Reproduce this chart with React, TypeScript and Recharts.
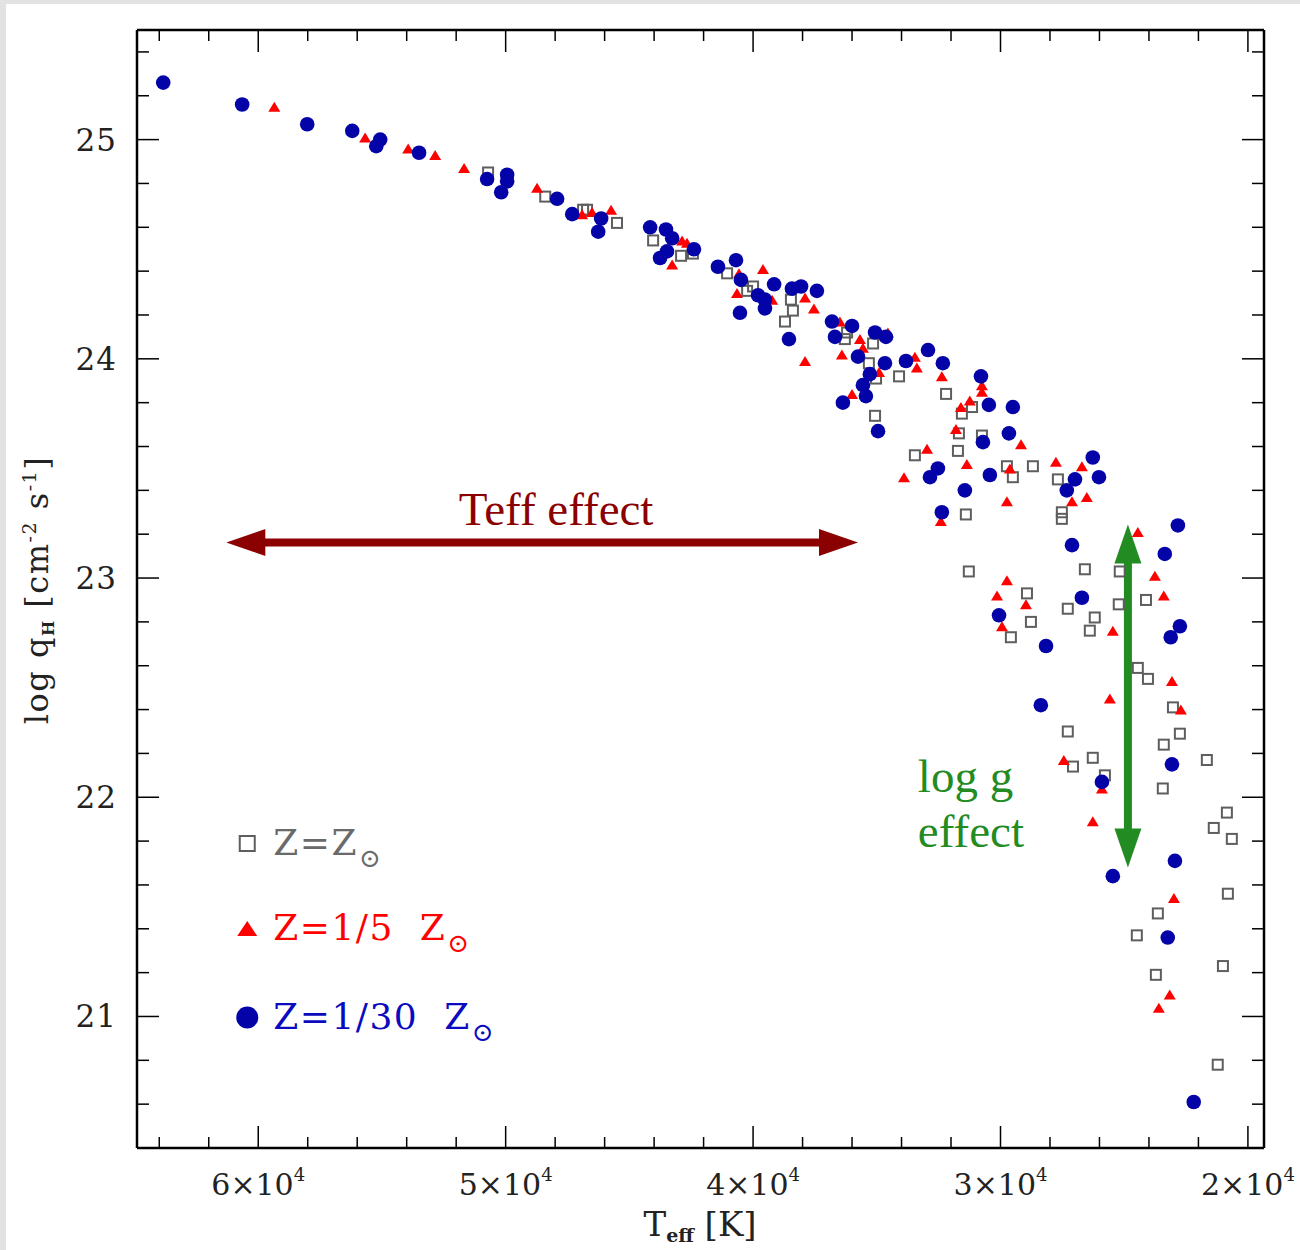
import React from "react";
import {
  ReferenceDot,
  ReferenceLine,
  Scatter,
  ScatterChart,
  XAxis,
  YAxis,
} from "recharts";

// [Teff (K), log qH]
const solarModels: [number, number][] = [
  [50710, 24.85], [48400, 24.74], [46870, 24.68], [46710, 24.68], [45500, 24.62],
  [44040, 24.54], [42910, 24.47], [42430, 24.48], [41050, 24.39], [40000, 24.33],
  [40240, 24.31], [38470, 24.27], [38390, 24.22], [38710, 24.17], [36200, 24.12],
  [36290, 24.09], [35150, 24.07], [35320, 23.98], [35030, 23.91], [35070, 23.74],
  [34100, 23.92], [32200, 23.84], [31150, 23.78], [31560, 23.75], [31680, 23.66],
  [30750, 23.65], [31720, 23.58], [33460, 23.56], [29740, 23.51], [29500, 23.46],
  [28690, 23.51], [27680, 23.45], [27520, 23.3], [27520, 23.27], [31400, 23.29],
  [31280, 23.03], [28930, 22.93], [28770, 22.8], [29580, 22.73], [27280, 22.86],
  [26590, 23.04], [26190, 22.82], [26390, 22.76], [25180, 23.03], [25220, 22.88],
  [24120, 22.9], [24450, 22.59], [24040, 22.54], [23030, 22.41], [22750, 22.29],
  [23400, 22.24], [27280, 22.3], [27070, 22.14], [26270, 22.18], [25780, 22.1],
  [23440, 22.04], [21660, 22.17], [20850, 21.93], [21380, 21.86], [20650, 21.81],
  [20810, 21.56], [23640, 21.47], [24490, 21.37], [21010, 21.23], [23720, 21.19],
  [21220, 20.78],
];

const fifthSolarModels: [number, number][] = [
  [59350, 25.15], [55680, 25.01], [53940, 24.96], [52850, 24.93], [51680, 24.87],
  [48730, 24.78], [46910, 24.66], [46510, 24.67], [45740, 24.68], [42870, 24.54],
  [42670, 24.53], [43270, 24.43], [39600, 24.41], [40570, 24.39], [40650, 24.3],
  [39230, 24.27], [37900, 24.28], [37540, 24.23], [37900, 23.99], [36490, 24.17],
  [35680, 24.09], [35560, 24.05], [36410, 24.02], [34910, 23.94], [36000, 23.84],
  [34550, 24.12], [33460, 24.01], [33380, 23.96], [32370, 23.92], [30750, 23.88],
  [30750, 23.85], [31240, 23.81], [31600, 23.78], [31800, 23.68], [29170, 23.61],
  [32970, 23.59], [33900, 23.46], [31360, 23.52], [29620, 23.5], [29740, 23.35],
  [32410, 23.26], [27760, 23.53], [26710, 23.51], [26510, 23.37], [27110, 23.35],
  [24450, 23.21], [23760, 23.01], [23400, 22.92], [29740, 22.99], [30140, 22.92],
  [28970, 22.88], [29940, 22.78], [25460, 22.76], [23070, 22.53], [25580, 22.45],
  [22710, 22.4], [27440, 22.17], [25900, 22.04], [26270, 21.89], [22990, 21.54],
  [23160, 21.1], [23600, 21.04],
];

const thirtiethSolarModels: [number, number][] = [
  [63840, 25.26], [60650, 25.16], [58020, 25.07], [56200, 25.04], [55070, 25.0],
  [55230, 24.97], [53500, 24.94], [50750, 24.82], [49940, 24.84], [49940, 24.81],
  [50180, 24.76], [47920, 24.73], [47310, 24.66], [46140, 24.64], [46260, 24.58],
  [44160, 24.6], [43520, 24.59], [43270, 24.55], [43480, 24.49], [43760, 24.46],
  [42390, 24.5], [41420, 24.42], [40690, 24.45], [40490, 24.36], [39800, 24.29],
  [39520, 24.27], [39520, 24.23], [39150, 24.34], [40530, 24.21], [38430, 24.32],
  [38060, 24.33], [37420, 24.31], [38550, 24.09], [36810, 24.17], [36000, 24.15],
  [36690, 24.1], [35760, 24.01], [35070, 24.12], [34630, 24.1], [34670, 23.98],
  [35280, 23.93], [35560, 23.88], [35440, 23.83], [36370, 23.8], [34950, 23.67],
  [33820, 23.99], [32930, 24.04], [32330, 23.98], [30790, 23.92], [30470, 23.79],
  [29500, 23.78], [30710, 23.62], [29660, 23.66], [32530, 23.5], [32850, 23.46],
  [30430, 23.47], [31440, 23.4], [32370, 23.3], [26270, 23.55], [26020, 23.46],
  [26990, 23.45], [27320, 23.4], [27110, 23.15], [22830, 23.24], [23360, 23.11],
  [26710, 22.91], [30060, 22.83], [22750, 22.78], [23120, 22.73], [28160, 22.69],
  [28370, 22.42], [23070, 22.15], [25900, 22.07], [22950, 21.71], [25460, 21.64],
  [23240, 21.36], [22190, 20.61],
];

const teffTicks = [
  20000, 22000, 24000, 26000, 28000, 30000, 32000, 34000, 36000, 38000, 40000, 42000,
  44000, 46000, 48000, 50000, 52000, 54000, 56000, 58000, 60000, 62000, 64000,
];
const logqTicks = [
  20.6, 20.8, 21, 21.2, 21.4, 21.6, 21.8, 22, 22.2, 22.4, 22.6, 22.8, 23, 23.2, 23.4,
  23.6, 23.8, 24, 24.2, 24.4, 24.6, 24.8, 25, 25.2, 25.4,
];
const teffDomain = [19350, 64900];
const logqDomain = [20.4, 25.5];

const toPoints = (rows: [number, number][]) => rows.map(([t, q]) => ({ t, q }));

const GRAY = "#5e5e5e";
const RED = "#ff0000";
const BLUE = "#0303a8";
const DARKRED = "#8b0000";
const GREEN = "#228b22";
const SERIF = "DejaVu Serif";

const isMajorT = (v: number) => v % 10000 === 0;
const isMajorQ = (v: number) => Math.abs(v - Math.round(v)) < 1e-6;

function BottomTick({ x, y, payload }: any) {
  const v = payload.value;
  const major = isMajorT(v);
  return (
    <g>
      <line x1={x} x2={x} y1={y} y2={y - (major ? 22 : 11)} stroke="#000" strokeWidth={1.5} />
      {major && (
        <text x={x} y={y + 47} textAnchor="middle" fontFamily={SERIF} fontSize={30} fill="#222">
          {v / 10000}×10
          <tspan dy={-14} fontSize={18}>4</tspan>
        </text>
      )}
    </g>
  );
}

function TopTick({ x, y, payload }: any) {
  const major = isMajorT(payload.value);
  return <line x1={x} x2={x} y1={y} y2={y + (major ? 22 : 11)} stroke="#000" strokeWidth={1.5} />;
}

function LeftTick({ x, y, payload }: any) {
  const v = payload.value;
  const major = isMajorQ(v);
  return (
    <g>
      <line x1={x} x2={x + (major ? 22 : 12)} y1={y} y2={y} stroke="#000" strokeWidth={1.5} />
      {major && (
        <text x={x - 20} y={y + 11} textAnchor="end" fontFamily={SERIF} fontSize={31} fill="#222" letterSpacing={1}>
          {Math.round(v)}
        </text>
      )}
    </g>
  );
}

function RightTick({ x, y, payload }: any) {
  const major = isMajorQ(payload.value);
  return <line x1={x} x2={x - (major ? 22 : 12)} y1={y} y2={y} stroke="#000" strokeWidth={1.5} />;
}

function squareMark(cx: number, cy: number, s: number) {
  return (
    <rect x={cx - s / 2} y={cy - s / 2} width={s} height={s} fill="none" stroke={GRAY} strokeWidth={2} />
  );
}
function triangleMark(cx: number, cy: number, w: number, h: number) {
  return (
    <polygon
      points={`${cx - w / 2},${cy + h / 2} ${cx + w / 2},${cy + h / 2} ${cx},${cy - h / 2}`}
      fill={RED}
    />
  );
}
function circleMark(cx: number, cy: number, r: number) {
  return <circle cx={cx} cy={cy} r={r} fill={BLUE} />;
}

function arrowShape(color: string, both: boolean) {
  return (p: any) => {
    const { x1, y1, x2, y2 } = p;
    const len = Math.hypot(x2 - x1, y2 - y1) || 1;
    const ux = (x2 - x1) / len;
    const uy = (y2 - y1) / len;
    const hl = 39;
    const hw = 13.5;
    const head = (tx: number, ty: number, dx: number, dy: number) => {
      const bx = tx - dx * hl;
      const by = ty - dy * hl;
      return `${tx},${ty} ${bx - dy * hw},${by + dx * hw} ${bx + dy * hw},${by - dx * hw}`;
    };
    const sx = both ? x1 + ux * (hl - 2) : x1;
    const sy = both ? y1 + uy * (hl - 2) : y1;
    return (
      <g>
        <line x1={sx} y1={sy} x2={x2 - ux * (hl - 2)} y2={y2 - uy * (hl - 2)} stroke={color} strokeWidth={8} />
        <polygon points={head(x2, y2, ux, uy)} fill={color} />
        {both && <polygon points={head(x1, y1, -ux, -uy)} fill={color} />}
      </g>
    );
  };
}

function legendShape(marker: (cx: number, cy: number) => React.ReactNode, label: string, color: string) {
  return (p: any) => (
    <g>
      {marker(p.cx, p.cy)}
      <text x={p.cx + 26} y={p.cy + 11} fontFamily={SERIF} fontSize={36} fill={color} letterSpacing={1.5}>
        {label}
        <tspan dx={1} dy={12} fontSize={26}>⊙</tspan>
      </text>
    </g>
  );
}

export default function App() {
  return (
    <div style={{ position: "absolute", left: 0, top: 0, width: 1300, height: 1250, background: "#e2e2e2" }}>
      <div style={{ position: "absolute", left: 6, top: 4, width: 1294, height: 1246, background: "#fff" }} />
      <div style={{ position: "absolute", left: 0, top: 0 }}>
        <ScatterChart width={1300} height={1250} margin={{ top: 20, right: 26, bottom: 12, left: 37 }}>
          <XAxis
            type="number"
            dataKey="t"
            domain={teffDomain}
            allowDataOverflow
            reversed
            ticks={teffTicks}
            interval={0}
            height={90}
            tickSize={0}
            tickMargin={0}
            tickLine={false}
            tick={<BottomTick />}
            axisLine={{ stroke: "#000", strokeWidth: 2.5 }}
          />
          <XAxis
            xAxisId="top"
            orientation="top"
            type="number"
            dataKey="t"
            domain={teffDomain}
            allowDataOverflow
            reversed
            ticks={teffTicks}
            interval={0}
            height={10}
            tickSize={0}
            tickMargin={0}
            tickLine={false}
            tick={<TopTick />}
            axisLine={{ stroke: "#000", strokeWidth: 2.5 }}
          />
          <YAxis
            type="number"
            dataKey="q"
            domain={logqDomain}
            allowDataOverflow
            ticks={logqTicks}
            interval={0}
            width={100}
            tickSize={0}
            tickMargin={0}
            tickLine={false}
            tick={<LeftTick />}
            axisLine={{ stroke: "#000", strokeWidth: 2.5 }}
          />
          <YAxis
            yAxisId="right"
            orientation="right"
            type="number"
            dataKey="q"
            domain={logqDomain}
            allowDataOverflow
            ticks={logqTicks}
            interval={0}
            width={10}
            tickSize={0}
            tickMargin={0}
            tickLine={false}
            tick={<RightTick />}
            axisLine={{ stroke: "#000", strokeWidth: 2.5 }}
          />

          <Scatter
            name="Z=Zsun"
            data={toPoints(solarModels)}
            isAnimationActive={false}
            shape={(p: any) => squareMark(p.cx, p.cy, 10)}
          />
          <Scatter
            name="Z=1/5 Zsun"
            data={toPoints(fifthSolarModels)}
            isAnimationActive={false}
            shape={(p: any) => triangleMark(p.cx, p.cy, 12, 10)}
          />
          <Scatter
            name="Z=1/30 Zsun"
            data={toPoints(thirtiethSolarModels)}
            isAnimationActive={false}
            shape={(p: any) => circleMark(p.cx, p.cy, 7.3)}
          />

          <ReferenceLine
            segment={[{ x: 61290, y: 23.162 }, { x: 35760, y: 23.162 }]}
            shape={arrowShape(DARKRED, true)}
          />
          <ReferenceDot
            x={47960}
            y={23.244}
            r={0}
            shape={(p: any) => (
              <text x={p.cx} y={p.cy} textAnchor="middle" fontFamily="Liberation Serif" fontSize={47} fill={DARKRED}>
                Teff effect
              </text>
            )}
          />
          <ReferenceLine
            segment={[{ x: 24850, y: 23.244 }, { x: 24850, y: 21.68 }]}
            shape={arrowShape(GREEN, true)}
          />
          <ReferenceDot
            x={33340}
            y={22.022}
            r={0}
            shape={(p: any) => (
              <text x={p.cx} y={p.cy} fontFamily="Liberation Serif" fontSize={47} fill={GREEN}>
                <tspan x={p.cx}>log g</tspan>
                <tspan x={p.cx} dy={55}>effect</tspan>
              </text>
            )}
          />

          <ReferenceDot
            x={60444}
            y={21.789}
            r={0}
            shape={legendShape((cx, cy) => squareMark(cx, cy, 15), "Z=Z", "#6a6a6a")}
          />
          <ReferenceDot
            x={60444}
            y={21.401}
            r={0}
            shape={legendShape((cx, cy) => triangleMark(cx, cy, 20, 15), "Z=1/5\u00a0\u00a0Z", RED)}
          />
          <ReferenceDot
            x={60444}
            y={20.995}
            r={0}
            shape={legendShape((cx, cy) => circleMark(cx, cy, 11), "Z=1/30\u00a0\u00a0Z", "#0a0ac0")}
          />
        </ScatterChart>
      </div>
      <svg width={1300} height={1250} style={{ position: "absolute", left: 0, top: 0, pointerEvents: "none" }}>
        <text x={700} y={1236} textAnchor="middle" fontFamily={SERIF} fontSize={34} fill="#222">
          T
          <tspan dy={6} fontSize={19} fontWeight="bold">eff</tspan>
          <tspan dy={-6}> [K]</tspan>
        </text>
        <text
          x={48}
          y={590}
          transform="rotate(-90, 48, 590)"
          textAnchor="middle"
          fontFamily={SERIF}
          fontSize={32}
          letterSpacing={1.5}
          fill="#222"
        >
          log q
          <tspan dy={6} fontSize={16} fontWeight="bold">H</tspan>
          <tspan dy={-6}> [cm</tspan>
          <tspan dy={-12} fontSize={19}>-2</tspan>
          <tspan dy={12}> s</tspan>
          <tspan dy={-12} fontSize={19}>-1</tspan>
          <tspan dy={12}>]</tspan>
        </text>
      </svg>
    </div>
  );
}
